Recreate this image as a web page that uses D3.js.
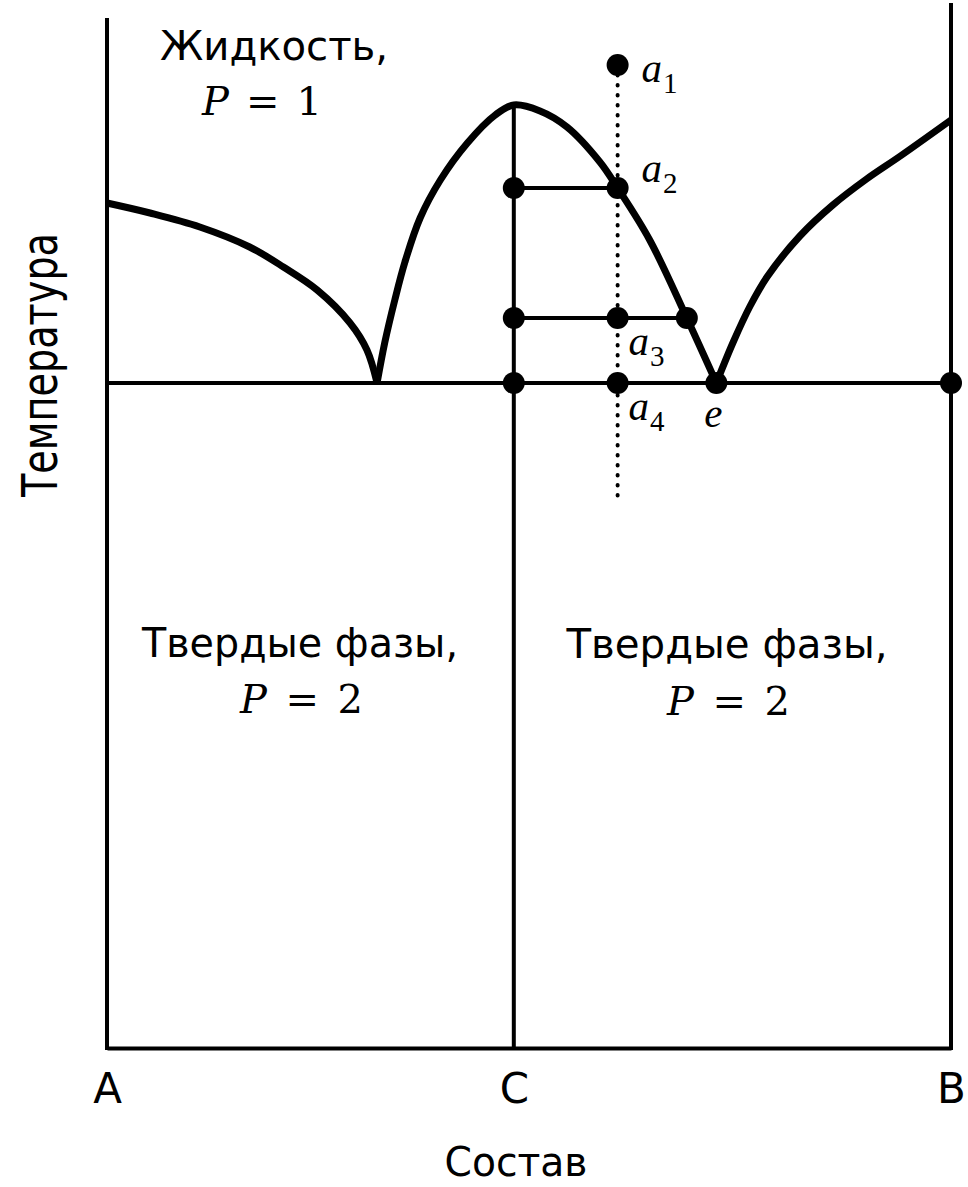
<!DOCTYPE html>
<meta charset="utf-8">
<style>
body { margin: 0; background: #fff; }
.sans { font-family: "DejaVu Sans", sans-serif; fill: #000; }
.math { font-family: "Liberation Serif", "DejaVu Serif", serif; fill: #000; }
.mathw { font-family: "DejaVu Serif", serif; fill: #000; }
</style>
<svg width="968" height="1187"></svg>
<script src="https://d3js.org/d3.v7.min.js"></script>
<script>
// composition: A = 0 ... B = 1, temperature in arbitrary units
var compTicks = [0, 0.482, 1];
var compLabels = ["A", "C", "B"];

// liquidus curves [composition, temperature]
var liquidusA = [[0,84.5],[0.051,83.5],[0.110,82.1],[0.169,80.1],[0.209,78.1],[0.249,75.8],[0.288,72.5],[0.308,69.8],[0.320,66.5]];
var liquidusC = [[0.320,66.5],[0.329,70.5],[0.341,74.8],[0.353,78.6],[0.371,83.0],[0.395,86.8],[0.427,90.5],[0.460,93.3],[0.482,94.3],[0.513,93.7],[0.545,92.1],[0.584,88.6],[0.605,86.0],[0.643,80.8],[0.687,73.0],[0.722,66.5]];
var liquidusB = [[0.722,66.5],[0.742,70.6],[0.762,74.2],[0.782,77.1],[0.821,81.2],[0.860,84.3],[0.900,86.9],[0.940,89.2],[1,92.8]];

// vertical lines [composition, top temperature]
var verticals = [[0, 103], [0.482, 94.3], [1, 104.5]];
// horizontal lines [from, to, temperature]
var tieLines = [[0, 1, 66.5], [0.482, 0.605, 86.0], [0.482, 0.687, 73.0]];
// isopleth [composition, top, bottom]
var isopleth = [0.605, 98.3, 54.6];

var points = [[0.605,98.3],[0.482,86.0],[0.605,86.0],[0.482,73.0],[0.605,73.0],[0.687,73.0],[0.482,66.5],[0.605,66.5],[0.722,66.5],[1,66.5]];

var labelNames = ["a", "a", "a", "a", "e"];
var labelSubs = ["1", "2", "3", "4", ""];
var labelAt = [[0.605,98.3],[0.605,86.0],[0.605,73.0],[0.605,66.5],[0.722,66.5]];

var svg = d3.select("svg");

var x = d3.scaleLinear().domain([0, 1]).range([107, 951]);
var y = d3.scaleLinear().domain([0, 100]).range([1048, 48]);

var line = d3.line()
  .x(d => x(d[0]))
  .y(d => y(d[1]))
  .curve(d3.curveCatmullRom.alpha(0.5));

// bottom axis
var axis = svg.append("g")
  .attr("transform", "translate(0," + y(0) + ")")
  .call(d3.axisBottom(x).tickValues(compTicks)
    .tickFormat((d, i) => compLabels[i]).tickSize(0).tickSizeOuter(0));
axis.select(".domain").attr("stroke", "#000").attr("stroke-width", 4);
axis.selectAll("text")
  .attr("class", "sans")
  .attr("font-size", 42)
  .attr("y", 55)
  .attr("dy", 0);

// frame verticals
svg.append("g").selectAll("line")
  .data(verticals)
  .enter().append("line")
    .attr("x1", d => x(d[0]))
    .attr("x2", d => x(d[0]))
    .attr("y1", d => y(d[1]))
    .attr("y2", y(0) + 2)
    .attr("stroke", "#000")
    .attr("stroke-width", 4);

// tie lines
svg.append("g").selectAll("line")
  .data(tieLines)
  .enter().append("line")
    .attr("x1", d => x(d[0]))
    .attr("x2", d => x(d[1]))
    .attr("y1", d => y(d[2]))
    .attr("y2", d => y(d[2]))
    .attr("stroke", "#000")
    .attr("stroke-width", 4);

// isopleth (dotted)
svg.append("line")
  .attr("x1", x(isopleth[0]))
  .attr("x2", x(isopleth[0]))
  .attr("y1", y(isopleth[1]))
  .attr("y2", y(isopleth[2]))
  .attr("stroke", "#000")
  .attr("stroke-width", 4)
  .attr("stroke-linecap", "round")
  .attr("stroke-dasharray", "0.5 9.5");

// liquidus curves
svg.append("g").selectAll("path")
  .data([liquidusA, liquidusC, liquidusB])
  .enter().append("path")
    .attr("d", line)
    .attr("fill", "none")
    .attr("stroke", "#000")
    .attr("stroke-width", 7)
    .attr("stroke-linejoin", "round");

// points
svg.append("g").selectAll("circle")
  .data(points)
  .enter().append("circle")
    .attr("cx", d => x(d[0]))
    .attr("cy", d => y(d[1]))
    .attr("r", 11)
    .attr("fill", "#000");

// point labels
var offsets = [[24, 17], [24, -6], [11, 37], [11, 37], [-12, 44]];
var lab = svg.append("g").selectAll("text")
  .data(labelAt)
  .enter().append("text")
    .attr("class", "math")
    .attr("x", (d, i) => x(d[0]) + offsets[i][0])
    .attr("y", (d, i) => y(d[1]) + offsets[i][1])
    .attr("font-size", 41);
lab.append("tspan")
  .attr("font-style", "italic")
  .text((d, i) => labelNames[i]);
lab.append("tspan")
  .attr("font-size", 29)
  .attr("dy", 11)
  .attr("dx", 1)
  .text((d, i) => labelSubs[i]);

// region labels
function regionLabel(word, cx, base, len, px, pBase, pLen, digit) {
  svg.append("text")
    .attr("class", "sans")
    .attr("font-size", 41)
    .attr("x", cx)
    .attr("y", base)
    .attr("text-anchor", "middle")
    .attr("textLength", len)
    .attr("lengthAdjust", "spacingAndGlyphs")
    .text(word);
  var t = svg.append("text")
    .attr("class", "mathw")
    .attr("font-size", 40)
    .attr("x", px)
    .attr("y", pBase)
    .attr("textLength", pLen)
    .attr("lengthAdjust", "spacing");
  t.append("tspan").attr("font-style", "italic").text("P");
  t.append("tspan").text("=" + digit);
}
regionLabel("Жидкость,", 274, 60, 228, 202, 115, 120, "1");
regionLabel("Твердые фазы,", 300, 657, 316, 240, 713, 123, "2");
regionLabel("Твердые фазы,", 727, 658, 321, 667, 715, 123, "2");

// axis titles
svg.append("text")
  .attr("class", "sans")
  .attr("font-size", 41)
  .attr("x", 516)
  .attr("y", 1176)
  .attr("text-anchor", "middle")
  .attr("textLength", 143)
  .attr("lengthAdjust", "spacingAndGlyphs")
  .text("Состав");

svg.append("text")
  .attr("class", "sans")
  .attr("font-size", 50)
  .attr("transform", "translate(57,365) rotate(-90)")
  .attr("text-anchor", "middle")
  .attr("textLength", 264)
  .attr("lengthAdjust", "spacingAndGlyphs")
  .text("Температура");
</script>
